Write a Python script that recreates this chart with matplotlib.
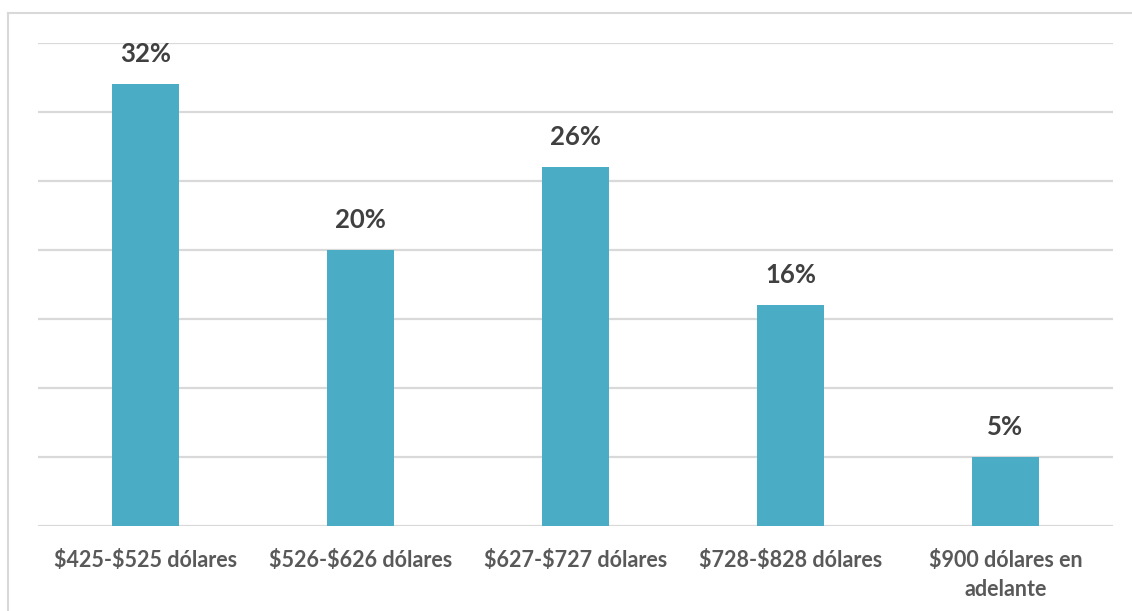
import matplotlib
matplotlib.use("Agg")
import matplotlib.pyplot as plt
from matplotlib.lines import Line2D

categories = ["$425-$525 dólares", "$526-$626 dólares", "$627-$727 dólares",
              "$728-$828 dólares", "$900 dólares en\nadelante"]
values = [32, 20, 26, 16, 5]
value_labels = ["32%", "20%", "26%", "16%", "5%"]

BAR_COLOR = "#4BACC6"
GRID_COLOR = "#D9D9D9"
LABEL_COLOR = "#404040"
TICK_COLOR = "#595959"

plt.rcParams["font.family"] = ["Lato", "DejaVu Sans"]

fig = plt.figure(figsize=(11.32, 6.11), dpi=100)
ax = fig.add_axes([38 / 1132, 1 - 526 / 611, (1113 - 38) / 1132, (526 - 43) / 611])

x = list(range(len(categories)))
bars = ax.bar(x, values, width=0.31, color=BAR_COLOR, zorder=3)

ax.set_xlim(-0.5, len(categories) - 0.5)
ax.set_ylim(0, 35)
ax.set_yticks(range(0, 36, 5))
ax.yaxis.grid(True, color=GRID_COLOR, linewidth=1.6, zorder=0)
ax.tick_params(axis="y", left=False, labelleft=False)
ax.tick_params(axis="x", bottom=False, pad=14)
ax.set_xticks(x)
# escape dollar signs so they are not read as mathtext delimiters
ax.set_xticklabels([c.replace("$", r"\$") for c in categories], fontsize=15.5,
                   fontweight="bold", color=TICK_COLOR, linespacing=1.45)
for s in ax.spines.values():
    s.set_visible(False)

for b, v, lab in zip(bars, values, value_labels):
    ax.annotate(lab, (b.get_x() + b.get_width() / 2, v), xytext=(0, 13),
                textcoords="offset points", ha="center", va="bottom",
                fontsize=18.5, fontweight="bold", color=LABEL_COLOR)

# light frame around the chart area (top and left edges)
fig.add_artist(Line2D([8 / 1132, 8 / 1132], [0, 1 - 13 / 611],
                      transform=fig.transFigure, color=GRID_COLOR, linewidth=1.5))
fig.add_artist(Line2D([8 / 1132, 1131 / 1132], [1 - 13 / 611, 1 - 13 / 611],
                      transform=fig.transFigure, color=GRID_COLOR, linewidth=1.5))

fig.savefig("out.png", dpi=100, facecolor="white")
